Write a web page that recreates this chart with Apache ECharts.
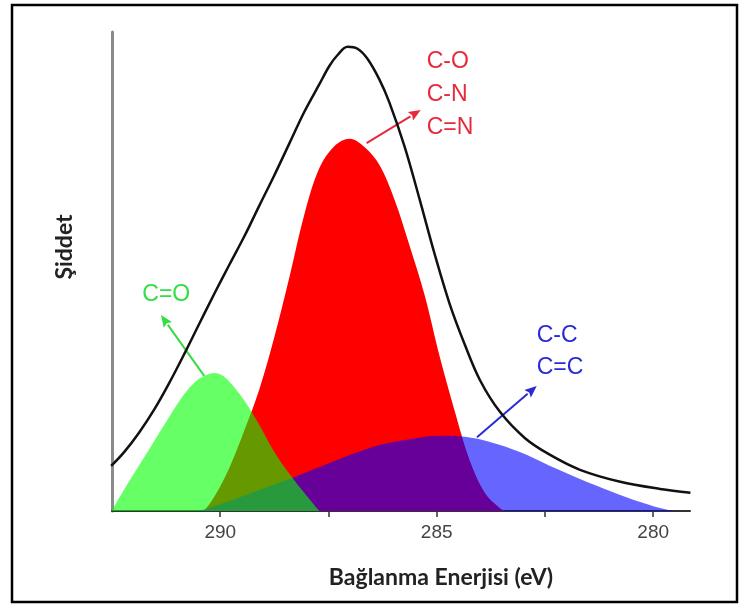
<!DOCTYPE html>
<html>
<head>
<meta charset="utf-8">
<script src="https://cdn.jsdelivr.net/npm/echarts@6/dist/echarts.min.js"></script>
<style>
  html, body { margin: 0; padding: 0; background: #fff; }
  #chart { width: 745px; height: 608px; }
</style>
</head>
<body>
<div id="chart"></div>
<script>
// C 1s spectrum: binding energy (eV) against intensity (a.u.)

// measured envelope
const envelope = [
  [292.52, 9.4], [292.22, 12.3], [291.88, 16.3], [291.53, 21.1], [291.18, 26.7],
  [290.83, 32.8], [290.49, 39.0], [290.14, 45.3], [289.79, 51.4], [289.44, 57.4],
  [289.10, 63.7], [288.75, 70.1], [288.40, 76.8], [288.06, 83.3], [287.71, 89.1],
  [287.48, 92.9], [287.29, 95.2], [287.06, 96.9], [286.83, 96.5], [286.60, 94.4],
  [286.32, 90.0], [286.09, 85.2], [285.74, 76.0], [285.39, 64.9], [285.05, 53.7],
  [284.70, 43.2], [284.35, 34.7], [284.00, 27.3], [283.54, 20.7], [282.96, 15.2],
  [282.38, 11.7], [281.69, 8.6], [280.76, 6.1], [279.84, 4.6], [279.14, 3.8]
];

// C-O / C-N / C=N component
const peakCO = [
  [290.37, 0], [290.14, 2.9], [289.79, 9.0], [289.44, 16.9], [289.10, 25.3],
  [288.75, 36.3], [288.40, 48.9], [288.06, 61.8], [287.71, 71.6], [287.36, 76.2],
  [287.01, 77.7], [286.67, 76.0], [286.32, 72.2], [285.97, 64.9], [285.63, 55.5],
  [285.28, 45.1], [284.93, 32.2], [284.58, 20.7], [284.24, 10.6], [283.89, 3.8],
  [283.54, 0.6], [283.38, 0]
];

// C-C / C=C component
const peakCC = [
  [290.49, 0], [289.79, 2.1], [289.10, 4.4], [288.40, 6.7], [287.71, 9.2],
  [287.01, 11.7], [286.32, 13.8], [285.63, 15.0], [284.93, 15.7], [284.35, 15.5],
  [283.77, 14.4], [283.08, 12.3], [282.38, 9.4], [281.69, 6.7], [281.00, 4.2],
  [280.30, 1.9], [279.65, 0.2], [279.37, 0]
];

// C=O component
const peakCdO = [
  [292.50, 0.2], [292.11, 6.1], [291.64, 12.9], [291.18, 19.6], [290.83, 24.4],
  [290.56, 27.1], [290.32, 28.4], [290.14, 28.8], [289.93, 28.2], [289.70, 26.1],
  [289.44, 23.0], [289.10, 18.0], [288.75, 12.3], [288.40, 7.7], [288.06, 3.8],
  [287.71, 0]
];

const energyTicks = [290, 287.5, 285, 282.5, 280];
const energyLabels = [290, 285, 280];

const labelsCO = ['C-O', 'C-N', 'C=N'];
const labelsCC = ['C-C', 'C=C'];
const labelsCdO = ['C=O'];

// arrow from each peak towards its label: [from, to] in (eV, a.u.)
const arrowCO = [[286.62, 76.8], [285.37, 83.7]];
const arrowCC = [[284.07, 15.4], [282.69, 26.1]];
const arrowCdO = [[290.37, 28.2], [291.37, 40.9]];

// label anchors (left edge, vertical centre) in (eV, a.u.)
const anchorCO = [285.23, 87.0];
const anchorCC = [282.69, 33.3];
const anchorCdO = [291.8, 45.1];

const COLOR_CO = '#e8283c', COLOR_CC = '#2a2ad6', COLOR_CDO = '#33dd44';

function component(name, data, color, opacity, z) {
  return {
    name: name,
    type: 'line',
    data: data,
    smooth: 0.35,
    showSymbol: false,
    symbol: 'none',
    silent: true,
    z: z,
    lineStyle: { width: 0 },
    areaStyle: { color: color, opacity: opacity }
  };
}

const chart = echarts.init(document.getElementById('chart'), null, { renderer: 'canvas' });

chart.setOption({
  animation: false,
  backgroundColor: '#fff',
  grid: { left: 112, right: 55, top: 32, bottom: 97, containLabel: false },
  xAxis: {
    type: 'value',
    inverse: true,
    min: 279.15,
    max: 292.5,
    axisLine: { show: true, onZero: false, lineStyle: { color: '#333', width: 2 } },
    axisTick: { show: true, customValues: energyTicks, length: 6, lineStyle: { color: '#333', width: 1.5 } },
    axisLabel: { customValues: energyLabels, color: '#444', fontSize: 19, fontFamily: 'Liberation Sans, Arial, sans-serif', margin: 12 },
    splitLine: { show: false }
  },
  yAxis: {
    type: 'value',
    min: 0,
    max: 100,
    axisLine: { show: true, lineStyle: { color: '#8a8a8a', width: 3 } },
    axisTick: { show: false },
    axisLabel: { show: false },
    splitLine: { show: false }
  },
  series: [
    component('C-O, C-N, C=N', peakCO, '#ff0000', 1, 2),
    component('C-C, C=C', peakCC, '#0000ff', 0.6, 3),
    component('C=O', peakCdO, '#00ff00', 0.6, 4),
    {
      name: 'Zarf',
      type: 'line',
      data: envelope,
      smooth: 0.35,
      showSymbol: false,
      symbol: 'none',
      silent: true,
      z: 5,
      lineStyle: { color: '#111', width: 2.5 }
    }
  ]
});

const toPx = (pt) => chart.convertToPixel({ gridIndex: 0 }, pt);

// straight arrow with a filled head, both ends given in data coordinates
function arrowShape(pair, color) {
  const a = toPx(pair[0]);
  const b = toPx(pair[1]);
  const dx = b[0] - a[0], dy = b[1] - a[1];
  const len = Math.hypot(dx, dy);
  const ux = dx / len, uy = dy / len;
  const headLen = 12, headHalf = 5;
  const bx = b[0] - ux * headLen, by = b[1] - uy * headLen;
  return {
    type: 'group',
    silent: true,
    children: [
      {
        type: 'line',
        shape: { x1: a[0], y1: a[1], x2: bx, y2: by },
        style: { stroke: color, lineWidth: 2 }
      },
      {
        type: 'polygon',
        shape: {
          points: [
            [b[0], b[1]],
            [bx - uy * headHalf, by + ux * headHalf],
            [bx + ux * 2, by + uy * 2],
            [bx + uy * headHalf, by - ux * headHalf]
          ]
        },
        style: { fill: color }
      }
    ]
  };
}

function peakLabel(lines, anchor, color, lineHeight) {
  const p = toPx(anchor);
  return {
    type: 'text',
    x: p[0],
    y: p[1],
    silent: true,
    style: {
      text: lines.join('\n'),
      fill: color,
      font: '23px "Liberation Sans", Arial, sans-serif',
      lineHeight: lineHeight,
      align: 'left',
      verticalAlign: 'middle'
    }
  };
}

chart.setOption({
  graphic: [
    {
      type: 'rect',
      silent: true,
      shape: { x: 12, y: 5, width: 725, height: 597 },
      style: { fill: 'none', stroke: '#000', lineWidth: 2.5 }
    },
    arrowShape(arrowCO, COLOR_CO),
    arrowShape(arrowCC, COLOR_CC),
    arrowShape(arrowCdO, COLOR_CDO),
    peakLabel(labelsCO, anchorCO, COLOR_CO, 33),
    peakLabel(labelsCC, anchorCC, COLOR_CC, 32),
    peakLabel(labelsCdO, anchorCdO, COLOR_CDO, 30),
    {
      type: 'text',
      x: 441,
      y: 578,
      silent: true,
      style: {
        text: 'Bağlanma Enerjisi (eV)',
        fill: '#222',
        font: 'bold 23px Lato, "Open Sans", sans-serif',
        align: 'center',
        verticalAlign: 'middle'
      }
    },
    {
      type: 'text',
      x: 65,
      y: 247,
      rotation: Math.PI / 2,
      silent: true,
      style: {
        text: 'Şiddet',
        fill: '#222',
        font: 'bold 23px Lato, "Open Sans", sans-serif',
        align: 'center',
        verticalAlign: 'middle'
      }
    }
  ]
});
</script>
</body>
</html>
